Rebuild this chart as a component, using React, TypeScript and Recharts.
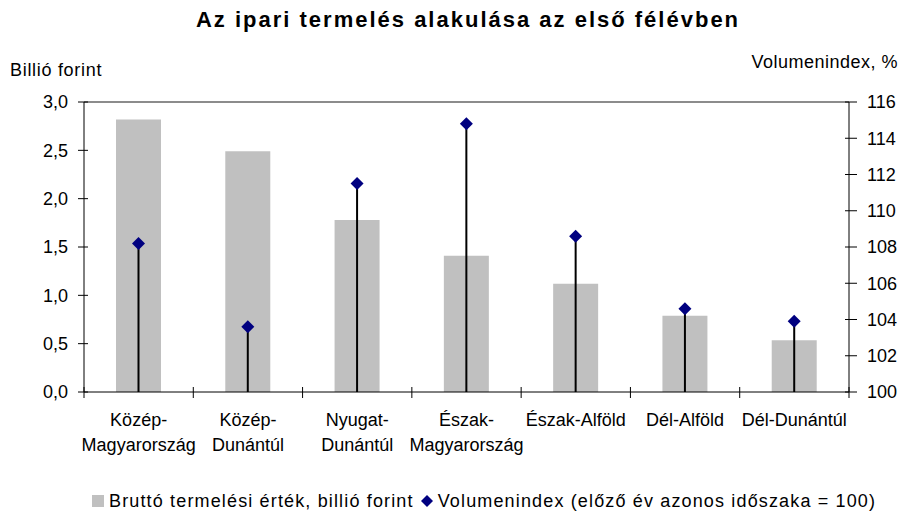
import React from 'react'
import {
  ComposedChart,
  Bar,
  XAxis,
  YAxis,
  Legend,
  ReferenceLine,
} from 'recharts'

const categories = [
  'Közép-Magyarország',
  'Közép-Dunántúl',
  'Nyugat-Dunántúl',
  'Észak-Magyarország',
  'Észak-Alföld',
  'Dél-Alföld',
  'Dél-Dunántúl',
]
const categoryLines = [
  ['Közép-', 'Magyarország'],
  ['Közép-', 'Dunántúl'],
  ['Nyugat-', 'Dunántúl'],
  ['Észak-', 'Magyarország'],
  ['Észak-Alföld'],
  ['Dél-Alföld'],
  ['Dél-Dunántúl'],
]
const grossOutput = [2.82, 2.49, 1.78, 1.41, 1.12, 0.79, 0.535]
const volumeIndex = [108.2, 103.6, 111.5, 114.8, 108.6, 104.6, 103.9]
const leftTicks = [0, 0.5, 1, 1.5, 2, 2.5, 3]
const rightTicks = [100, 102, 104, 106, 108, 110, 112, 114, 116]

const data = categories.map((name, i) => ({
  name,
  gross: grossOutput[i],
  vol: volumeIndex[i],
}))

const W = 902
const H = 512
const LEFT_W = 84
const RIGHT_W = 53
const FONT = '"Liberation Sans", Arial, sans-serif'
const band = (W - LEFT_W - RIGHT_W) / categories.length

function LeftTick(props: any) {
  const { x, y, payload } = props
  const ax = x + 16
  return (
    <g>
      <line x1={ax - 6} x2={ax + 4} y1={y} y2={y} stroke="#000" />
      <text x={x} y={y} dy="0.36em" textAnchor="end" fontSize={18} fill="#000" fontFamily={FONT}>
        {payload.value.toFixed(1).replace('.', ',')}
      </text>
    </g>
  )
}

function RightTick(props: any) {
  const { x, y, payload } = props
  const ax = x - 18
  return (
    <g>
      <line x1={ax - 4} x2={ax + 8} y1={y} y2={y} stroke="#000" />
      <text x={x} y={y} dy="0.36em" textAnchor="start" fontSize={18} fill="#000" fontFamily={FONT}>
        {payload.value}
      </text>
    </g>
  )
}

function CatTick(props: any) {
  const { x, y, index } = props
  const lines = categoryLines[index] || []
  return (
    <g>
      {index === 0 && (
        <line x1={x - band / 2} x2={x - band / 2} y1={y - 5} y2={y + 6} stroke="#000" />
      )}
      <line x1={x + band / 2} x2={x + band / 2} y1={y - 5} y2={y + 6} stroke="#000" />
      {lines.map((l, i) => (
        <text key={i} x={x} y={y + 34 + i * 25} textAnchor="middle" fontSize={18} fill="#000" fontFamily={FONT}>
          {l}
        </text>
      ))}
    </g>
  )
}

function Lollipop(props: any) {
  const { x, y, width, height } = props
  const cx = x + width / 2
  const r = 6.5
  return (
    <g>
      <line x1={cx} x2={cx} y1={y} y2={y + height} stroke="#000" strokeWidth={2} />
      <polygon
        points={`${cx},${y - r} ${cx + r},${y} ${cx},${y + r} ${cx - r},${y}`}
        fill="#000080"
      />
    </g>
  )
}

function LegendContent() {
  return (
    <div
      style={{
        height: 70,
        display: 'flex',
        alignItems: 'flex-end',
        paddingLeft: 92,
        paddingBottom: 2,
        boxSizing: 'border-box',
        fontFamily: FONT,
        fontSize: 18,
        lineHeight: '18px',
        letterSpacing: 1.15,
        color: '#000',
        whiteSpace: 'nowrap',
      }}
    >
      <span style={{ display: 'inline-block', width: 12, height: 12, background: '#c0c0c0', marginRight: 5, marginBottom: 3 }} />
      <span>Bruttó termelési érték, billió forint</span>
      <svg width={12} height={12} style={{ margin: '0 5px 3px 7px' }}>
        <polygon points="6,0 12,6 6,12 0,6" fill="#000080" />
      </svg>
      <span>Volumenindex (előző év azonos időszaka = 100)</span>
    </div>
  )
}

export default function App() {
  return (
    <div style={{ position: 'absolute', left: 0, top: 0, width: W, height: H, background: '#fff' }}>
      <div
        style={{
          position: 'absolute',
          left: 0,
          width: W,
          top: 6,
          textAlign: 'center',
          fontFamily: FONT,
          fontWeight: 'bold',
          fontSize: 22,
          lineHeight: '28px',
          letterSpacing: 2,
          paddingLeft: 34,
          boxSizing: 'border-box',
        }}
      >
        Az ipari termelés alakulása az első félévben
      </div>
      <div style={{ position: 'absolute', left: 10, top: 60, fontFamily: FONT, fontSize: 18, lineHeight: '20px', letterSpacing: 0.7 }}>
        Billió forint
      </div>
      <div style={{ position: 'absolute', right: 4, top: 52, fontFamily: FONT, fontSize: 18, lineHeight: '20px', letterSpacing: 0.5 }}>
        Volumenindex, %
      </div>
      <ComposedChart width={W} height={H} data={data} margin={{ top: 102, right: 0, bottom: 0, left: 0 }}>
        <XAxis
          dataKey="name"
          xAxisId="main"
          height={50}
          interval={0}
          tickLine={false}
          tickSize={0}
          tickMargin={0}
          axisLine={{ stroke: '#000' }}
          tick={<CatTick />}
        />
        <XAxis dataKey="name" xAxisId="vol" hide />
        <YAxis
          yAxisId="left"
          width={LEFT_W}
          domain={[0, 3]}
          ticks={leftTicks}
          tickLine={false}
          tickSize={8}
          tickMargin={8}
          axisLine={{ stroke: '#000' }}
          tick={<LeftTick />}
        />
        <YAxis
          yAxisId="right"
          orientation="right"
          width={RIGHT_W}
          domain={[100, 116]}
          ticks={rightTicks}
          tickLine={false}
          tickSize={8}
          tickMargin={10}
          axisLine={{ stroke: '#000' }}
          tick={<RightTick />}
        />
        <ReferenceLine yAxisId="left" xAxisId="main" y={3} stroke="#8c8c8c" strokeWidth={2} />
        <Legend verticalAlign="bottom" wrapperStyle={{ height: 70 }} content={<LegendContent />} />
        <Bar
          dataKey="gross"
          xAxisId="main"
          yAxisId="left"
          fill="#c0c0c0"
          barSize={45}
          isAnimationActive={false}
        />
        <Bar
          dataKey="vol"
          xAxisId="vol"
          yAxisId="right"
          barSize={45}
          shape={<Lollipop />}
          isAnimationActive={false}
        />
      </ComposedChart>
    </div>
  )
}
